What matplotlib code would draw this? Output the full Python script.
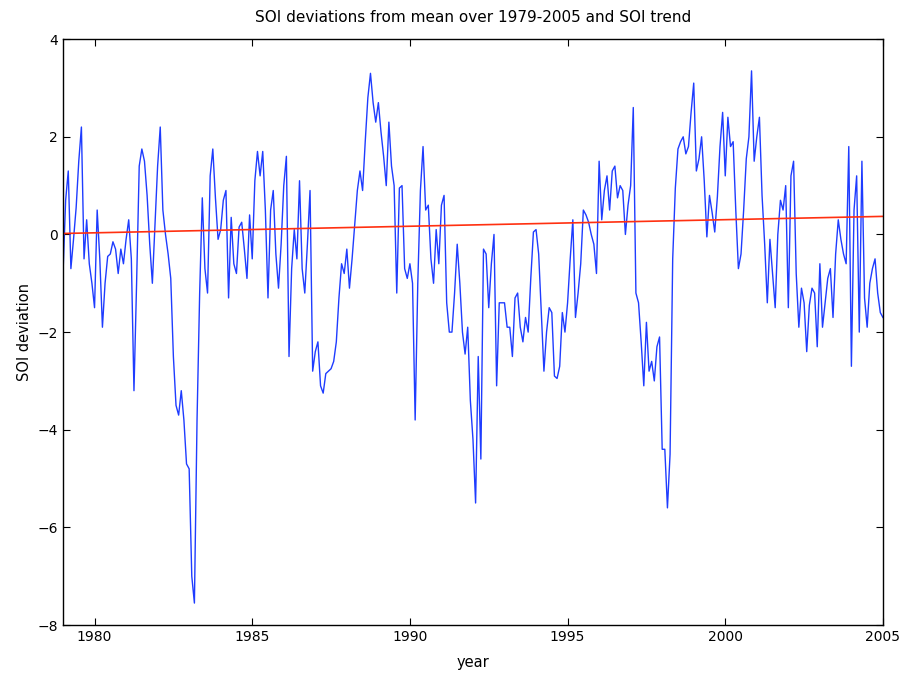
import numpy as np
import matplotlib
matplotlib.use("Agg")
import matplotlib.pyplot as plt

# monthly SOI deviations, one row per year (Jan..Dec)
soi_1979 = [-0.8, 0.7, 1.3, -0.7, -0.1, 0.55, 1.5, 2.2, -0.5, 0.3, -0.6, -1.0]
soi_1980 = [-1.5, 0.5, -0.5, -1.9, -1.0, -0.45, -0.4, -0.15, -0.3, -0.8, -0.3, -0.6]
soi_1981 = [-0.1, 0.3, -0.5, -3.2, -1.0, 1.4, 1.75, 1.5, 0.8, -0.2, -1.0, 0.2]
soi_1982 = [1.4, 2.2, 0.5, 0.0, -0.4, -0.9, -2.5, -3.5, -3.7, -3.2, -3.8, -4.7]
soi_1983 = [-4.8, -7.0, -7.55, -3.8, -1.2, 0.75, -0.7, -1.2, 1.2, 1.75, 0.75, -0.1]
soi_1984 = [0.1, 0.7, 0.9, -1.3, 0.35, -0.6, -0.8, 0.15, 0.25, -0.3, -0.9, 0.4]
soi_1985 = [-0.5, 1.1, 1.7, 1.2, 1.7, 0.5, -1.3, 0.5, 0.9, -0.4, -1.1, -0.2]
soi_1986 = [1.0, 1.6, -2.5, -0.7, 0.1, -0.5, 1.1, -0.7, -1.2, -0.2, 0.9, -2.8]
soi_1987 = [-2.4, -2.2, -3.1, -3.25, -2.85, -2.8, -2.75, -2.6, -2.2, -1.3, -0.6, -0.8]
soi_1988 = [-0.3, -1.1, -0.5, 0.2, 0.9, 1.3, 0.9, 1.9, 2.8, 3.3, 2.7, 2.3]
soi_1989 = [2.7, 2.1, 1.6, 1.0, 2.3, 1.4, 1.0, -1.2, 0.95, 1.0, -0.7, -0.9]
soi_1990 = [-0.6, -1.0, -3.8, -1.0, 0.9, 1.8, 0.5, 0.6, -0.5, -1.0, 0.1, -0.6]
soi_1991 = [0.6, 0.8, -1.4, -2.0, -2.0, -1.2, -0.2, -1.0, -2.0, -2.45, -1.9, -3.4]
soi_1992 = [-4.2, -5.5, -2.5, -4.6, -0.3, -0.4, -1.5, -0.6, 0.0, -3.1, -1.4, -1.4]
soi_1993 = [-1.4, -1.9, -1.9, -2.5, -1.3, -1.2, -1.9, -2.2, -1.7, -2.0, -0.9, 0.05]
soi_1994 = [0.1, -0.4, -1.6, -2.8, -2.0, -1.5, -1.6, -2.9, -2.95, -2.7, -1.6, -2.0]
soi_1995 = [-1.4, -0.5, 0.3, -1.7, -1.2, -0.6, 0.5, 0.4, 0.25, 0.0, -0.2, -0.8]
soi_1996 = [1.5, 0.3, 0.9, 1.2, 0.5, 1.3, 1.4, 0.75, 1.0, 0.9, 0.0, 0.6]
soi_1997 = [1.0, 2.6, -1.2, -1.4, -2.2, -3.1, -1.8, -2.8, -2.6, -3.0, -2.3, -2.1]
soi_1998 = [-4.4, -4.4, -5.6, -4.5, -0.5, 0.95, 1.75, 1.9, 2.0, 1.65, 1.8, 2.5]
soi_1999 = [3.1, 1.3, 1.55, 2.0, 1.1, -0.05, 0.8, 0.45, 0.05, 0.77, 1.8, 2.5]
soi_2000 = [1.2, 2.4, 1.8, 1.9, 0.5, -0.7, -0.4, 0.5, 1.55, 2.0, 3.35, 1.5]
soi_2001 = [2.0, 2.4, 0.8, -0.2, -1.4, -0.1, -0.8, -1.5, 0.0, 0.7, 0.5, 1.0]
soi_2002 = [-1.5, 1.2, 1.5, -0.8, -1.9, -1.1, -1.4, -2.4, -1.45, -1.1, -1.2, -2.3]
soi_2003 = [-0.6, -1.9, -1.4, -0.9, -0.7, -1.7, -0.4, 0.3, -0.1, -0.4, -0.6, 1.8]
soi_2004 = [-2.7, 0.5, 1.2, -2.0, 1.5, -1.3, -1.9, -1.0, -0.7, -0.5, -1.2, -1.6]
soi_2005 = [-1.7]

start_year = 1979
trend_start = 0.02
trend_end = 0.37

soi = np.array(soi_1979 + soi_1980 + soi_1981 + soi_1982 + soi_1983 + soi_1984
               + soi_1985 + soi_1986 + soi_1987 + soi_1988 + soi_1989 + soi_1990
               + soi_1991 + soi_1992 + soi_1993 + soi_1994 + soi_1995 + soi_1996
               + soi_1997 + soi_1998 + soi_1999 + soi_2000 + soi_2001 + soi_2002
               + soi_2003 + soi_2004 + soi_2005)
t = start_year + np.arange(len(soi)) / 12.0

fig = plt.figure(figsize=(9.04, 6.75), dpi=100)
ax = fig.add_axes([0.0697, 0.074, 0.907, 0.868])

ax.plot(t, soi, color="#1e3cff", linewidth=1.0)
ax.plot([t[0], t[-1]], [trend_start, trend_end], color="#ff3010", linewidth=1.2)

ax.set_xlim(1979, 2005)
ax.set_ylim(-8, 4)
ax.set_xticks([1980, 1985, 1990, 1995, 2000, 2005])
ax.set_yticks([-8, -6, -4, -2, 0, 2, 4])
ax.tick_params(direction="in", top=True, right=True, length=5, labelsize=10)
for s in ax.spines.values():
    s.set_linewidth(1.0)

ax.set_title("SOI deviations from mean over 1979-2005 and SOI trend", fontsize=11, pad=12)
ax.set_xlabel("year", fontsize=10.5, labelpad=8)
ax.set_ylabel("SOI deviation", fontsize=10.5)

fig.savefig("out.png", dpi=100)
